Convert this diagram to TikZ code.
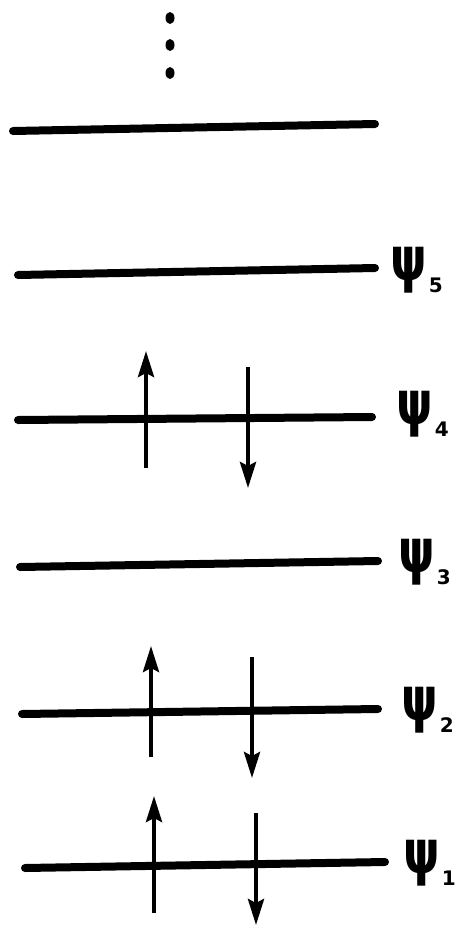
\documentclass[tikz,border=0pt]{standalone}
\usepackage{fontspec}
\setmainfont{DejaVu Sans}
\usetikzlibrary{arrows.meta}
\tikzset{
  level/.style={line width=8pt, line cap=round},
  spin/.style={line width=4pt, -{Stealth[length=26pt,width=16pt,inset=4pt]}},
  lab/.style={anchor=west, inner sep=0pt, font=\fontsize{42}{42}\selectfont\bfseries},
  vdot/.style={fill=black, draw=none}
}
\newcommand{\psilab}[1]{\scalebox{1.1}[1.45]{ψ}\kern2pt\raisebox{-0.28em}{\fontsize{20}{20}\selectfont #1}}
\begin{document}
\begin{tikzpicture}[x=1pt,y=-1pt]
\useasboundingbox (0,0) rectangle (455,927);
% vertical dots
\foreach \yy in {18,45,73} \fill[vdot] (170,\yy) ellipse [x radius=4.5, y radius=6];
% top unlabeled level
\draw[level] (13,131) -- (375,124);
% levels
\draw[level] (18,275) -- (375,268);
\node[lab] (p5) at (390,270) {\psilab{5}};
\draw[level] (18,420) -- (372,417);
\node[lab] (p4) at (396,414) {\psilab{4}};
\draw[level] (20,567) -- (378,561);
\node[lab] (p3) at (398,562) {\psilab{3}};
\draw[level] (22,714) -- (378,709);
\node[lab] (p2) at (401,710) {\psilab{2}};
\draw[level] (25,868) -- (385,862);
\node[lab] (p1) at (403,863) {\psilab{1}};
% spins psi4
\coordinate (u4a) at (146,468); \coordinate (u4b) at (146,351);
\coordinate (d4a) at (248,367); \coordinate (d4b) at (248,488);
\draw[spin] (u4a) -- (u4b);
\draw[spin] (d4a) -- (d4b);
% spins psi2
\coordinate (u2a) at (151,757); \coordinate (u2b) at (151,646);
\coordinate (d2a) at (252,657); \coordinate (d2b) at (252,778);
\draw[spin] (u2a) -- (u2b);
\draw[spin] (d2a) -- (d2b);
% spins psi1
\coordinate (u1a) at (154,913); \coordinate (u1b) at (154,796);
\coordinate (d1a) at (256,813); \coordinate (d1b) at (256,925);
\draw[spin] (u1a) -- (u1b);
\draw[spin] (d1a) -- (d1b);
\end{tikzpicture}
\end{document}
